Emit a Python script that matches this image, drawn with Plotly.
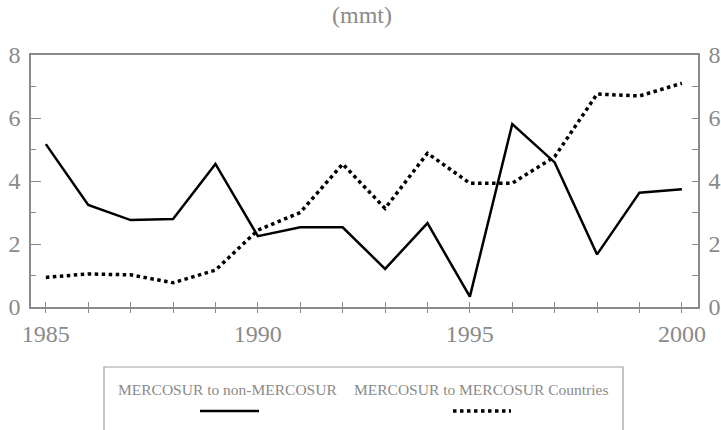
import plotly.graph_objects as go

years = list(range(1985, 2001))
non_mercosur = [5.17, 3.24, 2.76, 2.79, 4.54, 2.25, 2.53, 2.53, 1.21, 2.66, 0.33, 5.81, 4.59, 1.67, 3.63, 3.74]
intra_mercosur = [0.94, 1.05, 1.02, 0.77, 1.17, 2.44, 3.00, 4.54, 3.13, 4.88, 3.93, 3.93, 4.77, 6.76, 6.70, 7.10]
series_names = ["MERCOSUR to non-MERCOSUR", "MERCOSUR to MERCOSUR Countries"]
y_ticks = [0, 2, 4, 6, 8]
x_ticks = [1985, 1990, 1995, 2000]

W, H = 721, 430
L, R, T, B = 31, 23, 55, 123
PW, PH = W - L - R, H - T - B

def px(x):
    return (x - L) / PW

def py(y):
    return (H - B - y) / PH

GRAY = "#8a8a8a"
FONT = "Liberation Serif"

fig = go.Figure()
fig.add_trace(go.Scatter(x=years, y=non_mercosur, mode="lines", name=series_names[0],
                         line=dict(color="black", width=2.5), showlegend=False))
fig.add_trace(go.Scatter(x=years, y=intra_mercosur, mode="lines", name=series_names[1],
                         line=dict(color="black", width=3.5, dash="dot"), showlegend=False))
# helper trace so the secondary axes get drawn
fig.add_trace(go.Scatter(x=[years[0]], y=[None], xaxis="x2", yaxis="y2", showlegend=False, hoverinfo="skip"))

xr = [1984.65, 2000.38]
fig.update_layout(
    width=W, height=H,
    margin=dict(l=L, r=R, t=T, b=B),
    paper_bgcolor="white", plot_bgcolor="white",
    font=dict(family=FONT, color=GRAY),
    xaxis=dict(range=xr, tickmode="array", tickvals=years,
               ticktext=[str(y) if y in x_ticks else "" for y in years],
               ticks="outside", ticklen=4, tickcolor=GRAY, tickwidth=1,
               showline=True, linecolor=GRAY, linewidth=1.5, mirror=True,
               showgrid=False, zeroline=False, automargin=False,
               tickfont=dict(size=24, color=GRAY, family=FONT)),
    xaxis2=dict(range=xr, overlaying="x", side="bottom", tickmode="array", tickvals=years,
                ticks="inside", ticklen=5, tickcolor=GRAY, tickwidth=1, automargin=False,
                showticklabels=False, showline=False, showgrid=False, zeroline=False),
    yaxis=dict(range=[0, 8], tickmode="array", tickvals=y_ticks,
               ticks="inside", ticklen=10, tickcolor=GRAY, tickwidth=1,
               minor=dict(tickmode="array", tickvals=[1, 3, 5, 7], ticks="inside", ticklen=5, tickcolor=GRAY),
               showline=True, linecolor=GRAY, linewidth=1.5, automargin=False,
               showgrid=False, zeroline=False, ticklabelstandoff=4,
               tickfont=dict(size=24, color=GRAY, family=FONT)),
    yaxis2=dict(range=[0, 8], overlaying="y", side="right", tickmode="array", tickvals=y_ticks,
                ticks="inside", ticklen=6, tickcolor=GRAY, tickwidth=1,
                minor=dict(tickmode="array", tickvals=[1, 3, 5, 7], ticks="inside", ticklen=6, tickcolor=GRAY),
                showline=True, linecolor=GRAY, linewidth=1.5, automargin=False,
                showgrid=False, zeroline=False, ticklabelstandoff=4,
                tickfont=dict(size=24, color=GRAY, family=FONT)),
)

# title
fig.add_annotation(text="(mmt)", x=px(362), y=py(15), xref="paper", yref="paper",
                   showarrow=False, font=dict(size=24, color=GRAY, family=FONT),
                   xanchor="center", yanchor="middle")

# custom legend
fig.add_shape(type="rect", xref="paper", yref="paper",
              x0=px(104), x1=px(623), y0=py(367), y1=py(440),
              line=dict(color="#a0a0a0", width=1.2), fillcolor="rgba(0,0,0,0)")
fig.add_annotation(text=series_names[0], x=px(227), y=py(389), xref="paper", yref="paper",
                   showarrow=False, font=dict(size=15.5, color=GRAY, family=FONT),
                   xanchor="center", yanchor="middle")
fig.add_annotation(text=series_names[1], x=px(481), y=py(389), xref="paper", yref="paper",
                   showarrow=False, font=dict(size=15.5, color=GRAY, family=FONT),
                   xanchor="center", yanchor="middle")
fig.add_shape(type="line", xref="paper", yref="paper",
              x0=px(200), x1=px(259), y0=py(411), y1=py(411),
              line=dict(color="black", width=2.5))
fig.add_shape(type="line", xref="paper", yref="paper",
              x0=px(453), x1=px(511), y0=py(411), y1=py(411),
              line=dict(color="black", width=3.5, dash="dot"))

fig.write_html("out.html", config={"displayModeBar": False},
               post_script="document.body.style.margin='0';")
